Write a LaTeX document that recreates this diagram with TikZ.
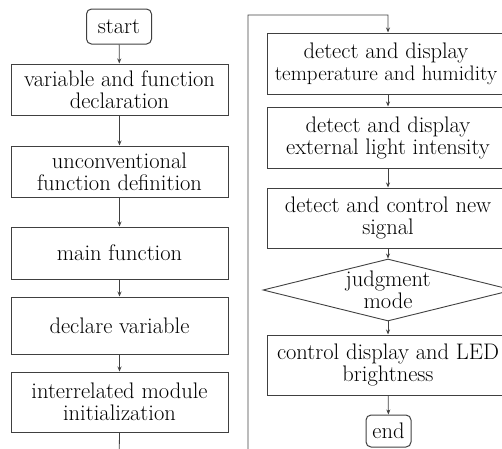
\documentclass[tikz,border=0pt]{standalone}
\usetikzlibrary{shapes.geometric,arrows.meta}
\begin{document}
\begin{tikzpicture}[x=1pt,y=-1pt,
  every node/.style={font=\fontsize{22.5}{22}\selectfont, align=center, inner sep=0pt, text=black},
  box/.style={draw=black!75, line width=1pt, rectangle, minimum width=#1},
  box/.default=217pt,
  term/.style={draw=black!75, line width=1pt, rectangle, rounded corners=5pt},
  conn/.style={draw=black!75, line width=0.8pt, -{Stealth[length=5pt,width=4pt]}}
]
\useasboundingbox (0,0) rectangle (502,448);
\node[term, minimum width=65pt, minimum height=35pt] (start) at (119,26.5) {start};
\node[box, minimum height=51pt] (b1) at (119.5,89.5) {variable and function\\declaration};
\node[box, minimum height=51pt] (b2) at (119.5,171.5) {unconventional\\function definition};
\node[box, minimum height=52pt] (b3) at (119.5,253) {main function};
\node[box, minimum height=57pt] (b4) at (119.5,325.5) {declare variable};
\node[box, minimum height=60pt] (b5) at (119.5,402) {interrelated module\\initialization};
\node[box=242pt, minimum height=61pt] (r1) at (388,63.5) {};
\node (r1t) at (386,63.5) {detect and display\\\fontsize{21}{22}\selectfont temperature and humidity};
\node[box=242pt, minimum height=61pt] (r2) at (388,137.5) {detect and display\\external light intensity};
\node[box=242pt, minimum height=60pt] (r3) at (388,218) {detect and control new\\signal};
\node[draw=black!75, line width=0.9pt, minimum width=250pt, minimum height=62pt, shape=diamond, aspect=4, inner sep=0pt] (dia) at (388,290) {};
\node (diat) at (388,290) {judgment\\mode};
\node[box=242pt, minimum height=60pt] (r4) at (388,365) {control display and LED\\brightness};
\node[term, minimum width=45pt, minimum height=32pt] (end) at (388.5,431) {end};
\coordinate (c1) at (119,470);
\coordinate (c2) at (248,470);
\coordinate (c3) at (248,15);
\coordinate (c4) at (388,15);
\draw[conn] (start) -- (b1);
\draw[conn] (b1) -- (b2);
\draw[conn] (b2) -- (b3);
\draw[conn] (b3) -- (b4);
\draw[conn] (b4) -- (b5);
\draw[conn] (b5.south) -- (c1) -- (c2) -- (c3) -- (c4) -- (r1.north);
\draw[conn] (r1) -- (r2);
\draw[conn] (r2) -- (r3);
\draw[conn] (r3) -- (dia);
\draw[conn] (dia) -- (r4);
\draw[conn] (r4) -- (end);
\end{tikzpicture}
\end{document}
